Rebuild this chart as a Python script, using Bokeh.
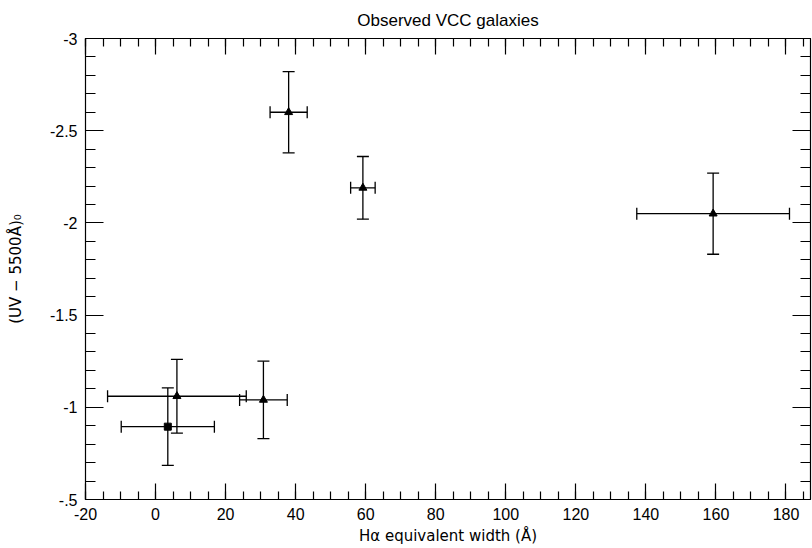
from bokeh.plotting import figure
from bokeh.models import (Range1d, LinearAxis, SingleIntervalTicker, Whisker,
                          ColumnDataSource, CustomJSTickFormatter, TeeHead)
from bokeh.embed import file_html
from bokeh.resources import INLINE

# Galaxies shown as triangles
ew = [38.0, 59.2, 159.2, 6.1, 30.8]          # H-alpha equivalent width (Å)
ew_err = [5.3, 3.5, 21.8, 19.8, 6.8]
uv = [-2.60, -2.19, -2.05, -1.06, -1.04]     # (UV - 5500Å)_0 colour
uv_err = [0.22, 0.17, 0.22, 0.20, 0.21]

# Galaxy shown as a square
sq_ew = [3.5]
sq_ew_err = [13.3]
sq_uv = [-0.895]
sq_uv_err = [0.21]


def make_source(x, xe, y, ye):
    return ColumnDataSource(dict(
        x=x, y=y,
        x_lo=[a - e for a, e in zip(x, xe)], x_hi=[a + e for a, e in zip(x, xe)],
        y_lo=[a - e for a, e in zip(y, ye)], y_hi=[a + e for a, e in zip(y, ye)],
    ))


tri = make_source(ew, ew_err, uv, uv_err)
sq = make_source(sq_ew, sq_ew_err, sq_uv, sq_uv_err)

p = figure(width=812, height=548, output_backend="svg", toolbar_location=None,
           x_range=Range1d(-20, 187), y_range=Range1d(-0.5, -3.0),
           x_axis_type=None, y_axis_type=None,
           min_border_left=85, min_border_right=2, min_border_top=38, min_border_bottom=49,
           title="Observed VCC galaxies")
p.background_fill_color = "white"
p.border_fill_color = "white"
p.outline_line_color = "black"
p.xgrid.visible = False
p.ygrid.visible = False

p.title.align = "center"
p.title.text_font = "Liberation Sans"
p.title.text_font_size = "17px"
p.title.text_font_style = "normal"
p.title.text_color = "black"
p.title.text_line_height = 0.9
p.title.standoff = 17

# plain hyphen-minus labels, "-.5" style for fractions
fmt_code = """
    let s = tick.toFixed(1).replace(/\\.0$/, '');
    return s.replace('-0.', '-.');
"""


def style_axis(ax, show_labels):
    ax.axis_line_color = "black"
    ax.axis_line_width = 1.2
    ax.major_tick_line_color = "black"
    ax.minor_tick_line_color = "black"
    ax.major_tick_line_width = 1.2
    ax.minor_tick_line_width = 1.2
    ax.major_tick_out = 0
    ax.minor_tick_out = 0
    ax.major_label_text_font = "Liberation Sans"
    ax.major_label_text_font_size = "16px"
    ax.major_label_text_color = "black"
    ax.major_label_standoff = 8
    ax.axis_label_text_color = "black"
    ax.axis_label_text_font = "DejaVu Sans"
    ax.axis_label_text_font_size = "15px"
    ax.axis_label_text_font_style = "normal"
    if not show_labels:
        ax.major_label_text_font_size = "0px"
        ax.major_label_text_color = None
        ax.major_label_standoff = 0


for loc, labels in (("below", True), ("above", False)):
    ax = LinearAxis(ticker=SingleIntervalTicker(interval=20, num_minor_ticks=4),
                    formatter=CustomJSTickFormatter(code=fmt_code))
    style_axis(ax, labels)
    ax.major_tick_in = 16
    ax.minor_tick_in = 8
    if labels:
        ax.axis_label = "Hα equivalent width (Å)"
        ax.axis_label_standoff = 4
    p.add_layout(ax, loc)

for loc, labels in (("left", True), ("right", False)):
    ax = LinearAxis(ticker=SingleIntervalTicker(interval=0.5, num_minor_ticks=5),
                    formatter=CustomJSTickFormatter(code=fmt_code))
    style_axis(ax, labels)
    ax.major_tick_in = 18
    ax.minor_tick_in = 10
    if labels:
        ax.axis_label = "(UV − 5500Å)₀"
        ax.axis_label_standoff = 22
    p.add_layout(ax, loc)

# Error bars
for src in (tri, sq):
    for dim, base, lo, hi in (("height", "x", "y_lo", "y_hi"), ("width", "y", "x_lo", "x_hi")):
        w = Whisker(source=src, base=base, lower=lo, upper=hi, dimension=dim,
                    line_color="black", line_width=1.3,
                    upper_head=TeeHead(size=12, line_color="black", line_width=1.3),
                    lower_head=TeeHead(size=12, line_color="black", line_width=1.3))
        p.add_layout(w)

p.scatter("x", "y", source=tri, marker="triangle", size=8,
          fill_color="black", line_color="black")
p.scatter("x", "y", source=sq, marker="square", size=7,
          fill_color="black", line_color="black")

open("out.html", "w").write(file_html(p, INLINE))
